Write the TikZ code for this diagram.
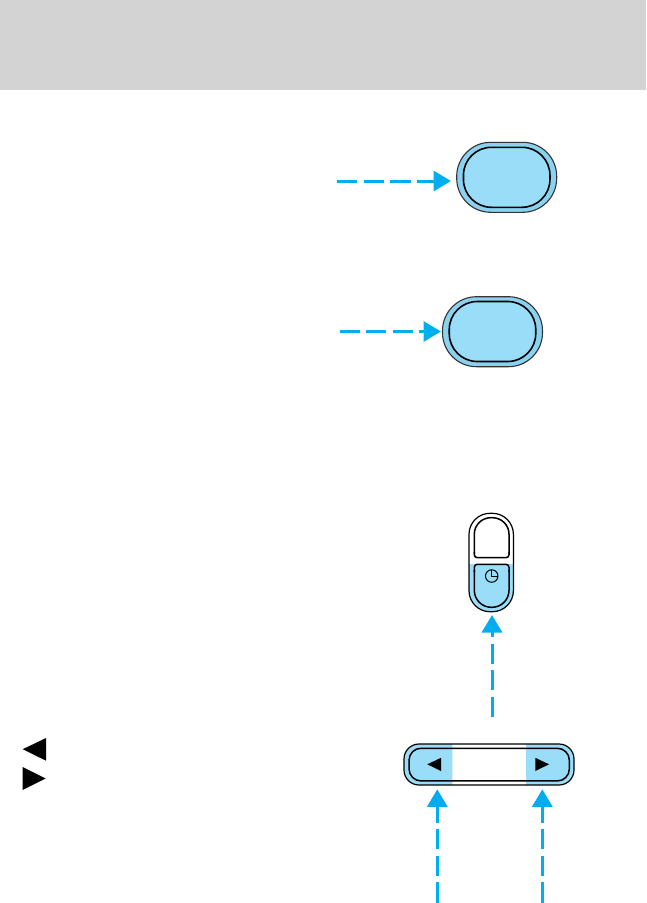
\documentclass[tikz,border=0pt]{standalone}
\usetikzlibrary{arrows.meta}
\definecolor{hdr}{HTML}{D3D3D3}
\definecolor{arrowblue}{HTML}{00AEEF}
\definecolor{lightblue}{HTML}{99DDF9}
\definecolor{bandblue}{HTML}{8AD2F0}
\tikzset{
  x=1pt,y=-1pt,
  bigbtn outer/.style={draw=black!80,line width=1.1pt,fill=bandblue,rounded corners=34pt,minimum width=100pt,minimum height=70pt,inner sep=0pt,outer sep=0pt},
  bigbtn inner/.style={draw=black,line width=1.6pt,fill=lightblue,rounded corners=28pt,minimum width=86.5pt,minimum height=60pt,inner sep=0pt,outer sep=0pt},
  callout/.style={draw=arrowblue,line width=3pt,dash pattern=on 20.3pt off 6.3pt,-{Triangle[length=17.5pt,width=20pt,fill=arrowblue]}},
  tri/.style={fill=black,draw=none},
  outline/.style={draw=black,line width=1.5pt},
  thin outline/.style={draw=black,line width=1.2pt},
}
\begin{document}
\begin{tikzpicture}
\useasboundingbox (0,0) rectangle (646,903);
\fill[white] (0,0) rectangle (646,903);
\node[fill=hdr,draw=none,minimum width=646pt,minimum height=90pt,inner sep=0pt,outer sep=0pt,anchor=north west] (header) at (0,0) {};

% top button
\node[bigbtn outer] (btnA) at (506.7,177.3) {};
\node[bigbtn inner] (btnAi) at (506.7,177.3) {};
\coordinate (tailA) at (337,181);
\coordinate (tipA) at (451,181);
\draw[callout] (tailA) -- (tipA);

% second button
\node[bigbtn outer] (btnB) at (492.5,331.7) {};
\node[bigbtn inner] (btnBi) at (492.5,331.5) {};
\coordinate (tailB) at (339.5,331.5);
\coordinate (tipB) at (441,331.5);
\draw[callout] (tailB) -- (tipB);

% rocker switch
\node[draw=none,fill=white,rounded corners=21pt,minimum width=44.3pt,minimum height=98.4pt,inner sep=0pt,outer sep=0pt] (sw) at (491.2,562.5) {};
\begin{scope}
  \clip (460,564.3) rectangle (525,620);
  \fill[lightblue,rounded corners=21pt] (469,513.3) rectangle (513.4,611.7);
\end{scope}
\draw[thin outline,rounded corners=21pt] (469,513.3) rectangle (513.4,611.7);
\coordinate (swUL) at (474.3,517.7);
\coordinate (swUR) at (509,557.7);
\coordinate (swLL) at (474.3,564.3);
\coordinate (swLR) at (509,607.3);
% upper compartment
\draw[outline] (474.3,554) [rounded corners=16.5pt] -- (474.3,517.7) -- (509,517.7) [sharp corners] -- (509,554);
\draw[outline,rounded corners=3pt] (474.3,552) -- (474.3,557.7) -- (509,557.7) -- (509,552);
% lower compartment
\draw[outline] (474.3,570) [rounded corners=17pt] -- (474.3,607.3) -- (509,607.3) [sharp corners] -- (509,570);
\draw[outline,rounded corners=3pt] (474.3,572) -- (474.3,564.3) -- (509,564.3) -- (509,572);
\node[draw=black,line width=1pt,circle,minimum size=12.5pt,inner sep=0pt,outer sep=0pt] (clock) at (491.7,576) {};
\draw[black,line width=0.8pt] (clock.north) -- (clock.center) -- (clock.east);
\coordinate (tailC) at (492,717);
\coordinate (tipC) at (492,615);
\draw[callout] (tailC) -- (tipC);

% seek bar
\node[draw=none,fill=white,rounded corners=15pt,minimum width=170pt,minimum height=41pt,inner sep=0pt,outer sep=0pt] (bar) at (489,764.5) {};
\begin{scope}
  \clip (400,740) rectangle (452.3,790) (526,740) rectangle (580,790);
  \fill[lightblue,rounded corners=15pt] (404,744) rectangle (574,785);
\end{scope}
\draw[thin outline,rounded corners=15pt] (404,744) rectangle (574,785);
\node[outline,rounded corners=12pt,minimum width=160.3pt,minimum height=32.7pt,inner sep=0pt,outer sep=0pt] (bari) at (489.2,764.6) {};
\fill[tri] (427.3,764.3) -- (441,757.8) -- (441,771) -- cycle;
\fill[tri] (549,764.3) -- (535.3,757.8) -- (535.3,771) -- cycle;
\coordinate (tailD) at (437.3,902.5);
\coordinate (tipD) at (437.3,789.3);
\draw[callout] (tailD) -- (tipD);
\coordinate (tailE) at (542.3,902.5);
\coordinate (tipE) at (542.3,789.3);
\draw[callout] (tailE) -- (tipE);

% left symbols
\fill[tri] (22.7,749.2) -- (46,738) -- (46,760.7) -- cycle;
\fill[tri] (45.7,778.5) -- (22.7,767) -- (22.7,790) -- cycle;
\end{tikzpicture}
\end{document}
